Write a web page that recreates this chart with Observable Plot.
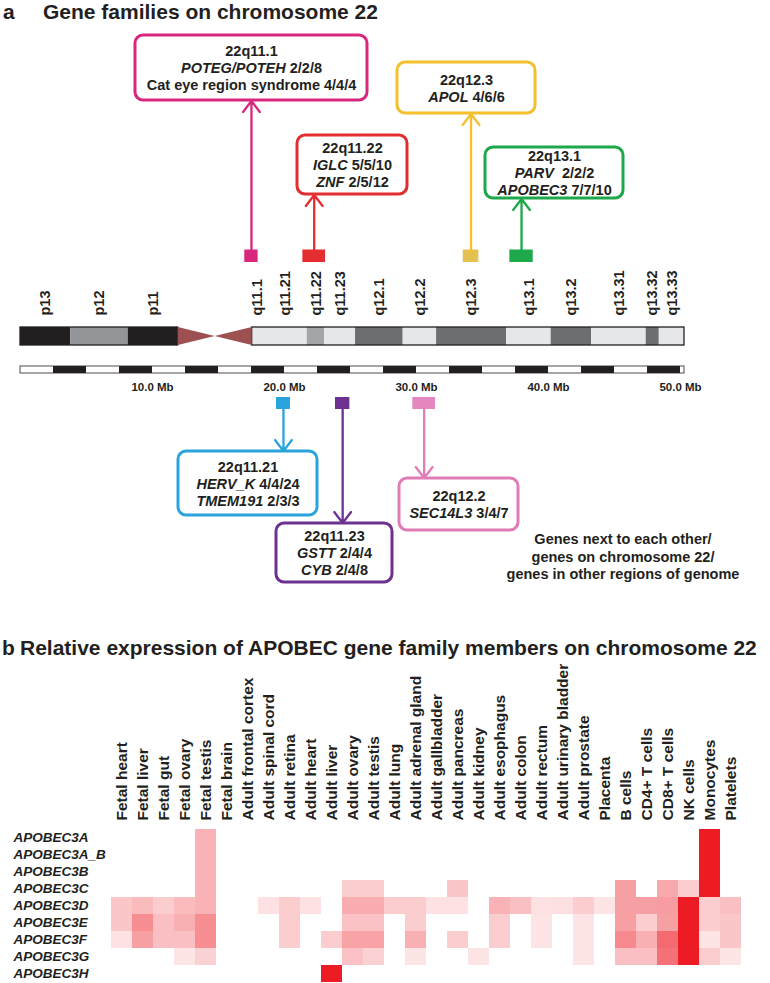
<!DOCTYPE html>
<html>
<head>
<meta charset="utf-8">
<script src="https://cdn.jsdelivr.net/npm/d3@7"></script>
<script src="https://cdn.jsdelivr.net/npm/@observablehq/plot@0.6"></script>
<style>
  html, body { margin: 0; padding: 0; background: #fff; }
  #root { position: relative; width: 770px; height: 983px; overflow: hidden;
          font-family: "Liberation Sans", Arial, Helvetica, sans-serif; color: #231f20; }
  .title { position: absolute; left: 0; width: 770px; height: 24px; line-height: 24px; font-size: 21px; font-weight: bold; white-space: nowrap; }
  .title span { position: absolute; top: 0; }
  #note { position: absolute; left: 473px; width: 300px; top: 531px; text-align: center;
          font-size: 14.5px; line-height: 17.5px; font-weight: bold; }
  #chartA { position: absolute; left: 0; top: 24px; }
  #chartB { position: absolute; left: 0; top: 660px; }
</style>
</head>
<body>
<div id="root">
  <div class="title" style="top:0px"><span style="left:3px">a</span><span style="left:43px">Gene families on chromosome 22</span></div>
  <div id="chartA"></div>
  <div id="note">Genes next to each other/<br>genes on chromosome 22/<br>genes in other regions of genome</div>
  <div class="title" style="top:636px"><span style="left:2px">b</span><span style="left:20px">Relative expression of APOBEC gene family members on chromosome 22</span></div>
  <div id="chartB"></div>
</div>
<script>
// ---------------- DATA: panel a ----------------
const CHR_LEN = 50.3; // Mb, as drawn
const bandNames  = ["p13","p12","p11","q11.1","q11.21","q11.22","q11.23","q12.1","q12.2","q12.3","q13.1","q13.2","q13.31","q13.32","q13.33"];
const bandStart  = [0, 3.8, 8.16, 17.55, 18.4, 21.72, 23.03, 25.38, 28.99, 31.52, 36.82, 40.2, 43.26, 47.4, 48.39];
const bandEnd    = [3.8, 8.16, 11.95, 18.4, 21.72, 23.03, 25.38, 28.99, 31.52, 36.82, 40.2, 43.26, 47.4, 48.39, 50.3];
const bandStain  = ["gpos100","gpos50","gpos100","gneg","gneg","gpos25","gneg","gpos75","gneg","gpos75","gneg","gpos75","gneg","gpos75","gneg"];
const centromere = [11.95, 17.55];
const scaleTicks = [10, 20, 30, 40, 50];
const scaleTickLabels = ["10.0 Mb", "20.0 Mb", "30.0 Mb", "40.0 Mb", "50.0 Mb"];
const scaleStep = 2.5;

const regionNames = ["22q11.1","22q11.22","22q12.3","22q13.1","22q11.21","22q11.23","22q12.2"];
const regionStart = [16.99, 21.39, 33.54, 37.07, 19.39, 23.86, 29.72];
const regionEnd   = [18.0, 23.11, 34.72, 38.84, 20.45, 24.95, 31.44];
const regionSide  = ["above","above","above","above","below","below","below"];
const regionGenes = [
  ["*POTEG/POTEH* 2/2/8", "Cat eye region syndrome 4/4/4"],
  ["*IGLC* 5/5/10", "*ZNF* 2/5/12"],
  ["*APOL* 4/6/6"],
  ["*PARV*  2/2/2", "*APOBEC3* 7/7/10"],
  ["*HERV_K* 4/4/24", "*TMEM191* 2/3/3"],
  ["*GSTT* 2/4/4", "*CYB* 2/4/8"],
  ["*SEC14L3* 3/4/7"]
];

// ---------------- DATA: panel b ----------------
const tissues = ["Fetal heart","Fetal liver","Fetal gut","Fetal ovary","Fetal testis","Fetal brain",
  "Adult frontal cortex","Adult spinal cord","Adult retina","Adult heart","Adult liver","Adult ovary",
  "Adult testis","Adult lung","Adult adrenal gland","Adult gallbladder","Adult pancreas","Adult kidney",
  "Adult esophagus","Adult colon","Adult rectum","Adult urinary bladder","Adult prostate","Placenta",
  "B cells","CD4+ T cells","CD8+ T cells","NK cells","Monocytes","Platelets"];
const genes = ["APOBEC3A","APOBEC3A_B","APOBEC3B","APOBEC3C","APOBEC3D","APOBEC3E","APOBEC3F","APOBEC3G","APOBEC3H"];
//                 fH   fLi  fGu  fOv  fTe  fBr  aFC  aSC  aRe  aHe  aLi  aOv  aTe  aLu  aAd  aGa  aPa  aKi  aEs  aCo  aRe  aUB  aPr  Pla  B    CD4  CD8  NK   Mon  Plt
const APOBEC3A   = [0,   0,   0,   0,   .34, 0,   0,   0,   0,   0,   0,   0,   0,   0,   0,   0,   0,   0,   0,   0,   0,   0,   0,   0,   0,   0,   0,   0,   1,   0];
const APOBEC3A_B = [0,   0,   0,   0,   .34, 0,   0,   0,   0,   0,   0,   0,   0,   0,   0,   0,   0,   0,   0,   0,   0,   0,   0,   0,   0,   0,   0,   0,   1,   0];
const APOBEC3B   = [0,   0,   0,   0,   .34, 0,   0,   0,   0,   0,   0,   0,   0,   0,   0,   0,   0,   0,   0,   0,   0,   0,   0,   0,   0,   0,   0,   0,   1,   0];
const APOBEC3C   = [0,   0,   0,   0,   .34, 0,   0,   0,   0,   0,   0,   .22, .22, 0,   0,   0,   .25, 0,   0,   0,   0,   0,   0,   0,   .42, 0,   .38, .22, 1,   0];
const APOBEC3D   = [.25, .30, .22, .30, .34, 0,   0,   .13, .22, .13, 0,   .36, .36, .22, .22, .13, .13, 0,   .34, .28, .13, .14, .22, .12, .42, .42, .43, 1,   .22, .28];
const APOBEC3E   = [.25, .50, .28, .35, .50, 0,   0,   0,   .22, 0,   0,   .27, .27, 0,   .22, 0,   0,   0,   .22, 0,   .12, 0,   .12, 0,   .42, .22, .42, 1,   .22, .25];
const APOBEC3F   = [.13, .42, .28, .28, .50, 0,   0,   0,   .22, 0,   .22, .40, .40, 0,   .35, 0,   .22, 0,   .22, 0,   .12, 0,   .12, 0,   .52, .35, .65, 1,   .12, .25];
const APOBEC3G   = [0,   0,   0,   .12, .20, 0,   0,   0,   0,   0,   0,   .27, .20, 0,   .12, 0,   0,   .12, 0,   0,   0,   0,   .12, 0,   .28, .28, .62, 1,   .22, .12];
const APOBEC3H   = [0,   0,   0,   0,   0,   0,   0,   0,   0,   0,   1,   0,   0,   0,   0,   0,   0,   0,   0,   0,   0,   0,   0,   0,   0,   0,   0,   0,   0,   0];
const expression = {APOBEC3A, APOBEC3A_B, APOBEC3B, APOBEC3C, APOBEC3D, APOBEC3E, APOBEC3F, APOBEC3G, APOBEC3H};

// ---------------- STYLE / LAYOUT ----------------
const INK = "#231f20";
const STAIN = {gpos100: "#231f20", gpos75: "#6d6e71", gpos50: "#939598", gpos25: "#a4a5a8", gneg: "#e6e7e8"};
const CEN_COLOR = "#9c5150";
const REGION_COLOR = {"22q11.1": "#d9277d", "22q11.22": "#e42d2f", "22q12.3": "#f4c02e", "22q13.1": "#1ca84b",
                      "22q11.21": "#29a4dc", "22q11.23": "#6d3192", "22q12.2": "#e07cb6"};
const MARKER_COLOR = {"22q12.3": "#e5c14f", "22q12.2": "#e486bf"};
// box layout in page pixels (left, right, top, bottom)
const BOX = {"22q11.1": [135, 367, 35, 100], "22q11.22": [297, 407, 135, 194], "22q12.3": [397, 535, 62, 113],
             "22q13.1": [485, 623, 147, 198], "22q11.21": [178, 317, 451, 515], "22q11.23": [276, 392, 523, 582],
             "22q12.2": [399, 518, 478, 530]};
const A_TOP = 24, A_H = 576;
const IDEO = [327, 345], SCALEBAR = [366, 373], BANDLABEL_Y = 315, SCALELABEL_Y = 387;
const MARK_ABOVE = [249.5, 262], MARK_BELOW = [397, 409];
const XRANGE = [20, 684];
const FONT = '"Liberation Sans", Arial, Helvetica, sans-serif';

// ---------------- PANEL A ----------------
const xs = d3.scaleLinear([0, CHR_LEN], XRANGE);
const bands = bandNames.map((name, i) => ({name, start: bandStart[i], end: bandEnd[i], fill: STAIN[bandStain[i]]}));
const cenMid = (centromere[0] + centromere[1]) / 2;
const yMid = (IDEO[0] + IDEO[1]) / 2;
const cenLeft = [{x: centromere[0], y1: IDEO[0], y2: IDEO[1]}, {x: cenMid, y1: yMid, y2: yMid}];
const cenRight = [{x: cenMid, y1: yMid, y2: yMid}, {x: centromere[1], y1: IDEO[0], y2: IDEO[1]}];
const arms = [{a: 0, b: centromere[0]}, {a: centromere[1], b: CHR_LEN}];
const segs = d3.range(0, CHR_LEN, scaleStep).map((s, i) => ({a: s, b: Math.min(s + scaleStep, CHR_LEN), fill: i % 2 ? INK : "#ffffff"}));
const ticks = scaleTicks.map((v, i) => ({v, label: scaleTickLabels[i]}));
const regions = regionNames.map((name, i) => {
  const [l, r, t, b] = BOX[name];
  const above = regionSide[i] === "above";
  return {name, start: regionStart[i], end: regionEnd[i], above,
    color: REGION_COLOR[name], marker: MARKER_COLOR[name] || REGION_COLOR[name],
    bx1: xs.invert(l), bx2: xs.invert(r), by1: t, by2: b, cx: xs.invert((l + r) / 2), cy: (t + b) / 2,
    my1: above ? MARK_ABOVE[0] : MARK_BELOW[0], my2: above ? MARK_ABOVE[1] : MARK_BELOW[1],
    ay1: above ? MARK_ABOVE[0] : MARK_BELOW[1], ay2: above ? b + 0.5 : t - 0.5,
    text: [name, ...regionGenes[i]].join("\n")};
});

const plotA = Plot.plot({
  width: 770, height: A_H, margin: 0,
  style: {fontFamily: FONT, background: "transparent", color: INK, overflow: "visible"},
  x: {domain: [0, CHR_LEN], range: XRANGE, axis: null},
  y: {domain: [A_TOP, A_TOP + A_H], range: [0, A_H], axis: null},
  color: {type: "identity"},
  marks: [
    Plot.rect(bands, {x1: "start", x2: "end", y1: IDEO[0], y2: IDEO[1], fill: "fill"}),
    Plot.rect(arms, {x1: "a", x2: "b", y1: IDEO[0], y2: IDEO[1], fill: "none", stroke: INK, strokeWidth: 1.3}),
    Plot.areaY(cenLeft, {x: "x", y1: "y1", y2: "y2", fill: CEN_COLOR}),
    Plot.areaY(cenRight, {x: "x", y1: "y1", y2: "y2", fill: CEN_COLOR}),
    Plot.rect(segs, {x1: "a", x2: "b", y1: SCALEBAR[0], y2: SCALEBAR[1], fill: "fill"}),
    Plot.rect([{a: 0, b: CHR_LEN}], {x1: "a", x2: "b", y1: SCALEBAR[0], y2: SCALEBAR[1], fill: "none", stroke: INK, strokeWidth: 0.8}),
    Plot.text(ticks, {x: "v", y: SCALELABEL_Y, text: "label", fontSize: 11.5, fontWeight: "bold", fill: INK}),
    Plot.text(bands, {x: d => (d.start + d.end) / 2, y: BANDLABEL_Y, text: "name", rotate: -90, textAnchor: "start",
                      fontSize: 14.5, fontWeight: "bold", fill: INK}),
    Plot.rect(regions, {x1: "start", x2: "end", y1: "my1", y2: "my2", fill: "marker"}),
    Plot.arrow(regions, {x: d => (d.start + d.end) / 2, y1: "ay1", y2: "ay2", stroke: "color", strokeWidth: 2.3,
                         headLength: 9, headAngle: 75}),
    Plot.rect(regions, {x1: "bx1", x2: "bx2", y1: "by1", y2: "by2", rx: 8, ry: 8, fill: "white", stroke: "color", strokeWidth: 3}),
    Plot.text(regions, {x: "cx", y: "cy", text: "text", fontSize: 14.5, fontWeight: "bold", lineHeight: 1.17, fill: INK})
  ]
});

function italicize(svg) {
  svg.querySelectorAll("text, tspan").forEach(el => {
    if (el.children.length) return;
    const s = el.textContent;
    if (!s.includes("*")) return;
    el.textContent = "";
    s.split("*").forEach((part, i) => {
      if (!part) return;
      const t = document.createElementNS("http://www.w3.org/2000/svg", "tspan");
      if (i % 2 === 1) t.setAttribute("font-style", "italic");
      t.textContent = part;
      el.appendChild(t);
    });
  });
}
italicize(plotA);
document.getElementById("chartA").appendChild(plotA);

// ---------------- PANEL B ----------------
const cells = [];
genes.forEach(g => expression[g].forEach((v, i) => { if (v > 0) cells.push({gene: g, tissue: tissues[i], v}); }));

const plotB = Plot.plot({
  width: 770, height: 323,
  marginTop: 168, marginBottom: 1, marginLeft: 107.3, marginRight: 25,
  style: {fontFamily: FONT, background: "transparent", color: INK, overflow: "visible"},
  x: {domain: tissues, padding: 0, axis: null},
  y: {domain: genes, padding: 0, axis: null},
  color: {type: "linear", domain: [0, 1], range: ["#ffffff", "#ed1c24"], interpolate: "rgb"},
  marks: [
    Plot.cell(cells, {x: "tissue", y: "gene", fill: "v"}),
    Plot.axisX({anchor: "top", label: null, tickSize: 0, tickPadding: 8, tickRotate: -90, fontSize: 15.5, fontWeight: "bold", fill: INK}),
    Plot.axisY({anchor: "left", label: null, tickSize: 0, tickPadding: 94.3, textAnchor: "start", fontSize: 13.5,
                fontWeight: "bold", fontStyle: "italic", fill: INK})
  ]
});
document.getElementById("chartB").appendChild(plotB);
</script>
</body>
</html>
